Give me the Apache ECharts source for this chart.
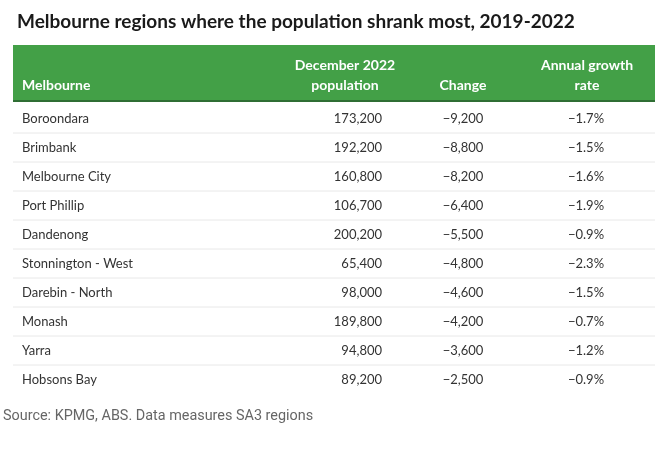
<!DOCTYPE html>
<html>
<head>
<meta charset="utf-8">
<script src="https://cdn.jsdelivr.net/npm/echarts@6/dist/echarts.min.js"></script>
<style>html,body{margin:0;padding:0;background:#fff;}#c{width:662px;height:450px;}</style>
</head>
<body>
<div id="c"></div>
<script>
var titleText = 'Melbourne regions where the population shrank most, 2019-2022';
var sourceText = 'Source: KPMG, ABS. Data measures SA3 regions';
var headers = ['Melbourne', 'December 2022\npopulation', 'Change', 'Annual growth\nrate'];
var regions = ['Boroondara', 'Brimbank', 'Melbourne City', 'Port Phillip', 'Dandenong', 'Stonnington - West', 'Darebin - North', 'Monash', 'Yarra', 'Hobsons Bay'];
var population = [173200, 192200, 160800, 106700, 200200, 65400, 98000, 189800, 94800, 89200];
var change = [-9200, -8800, -8200, -6400, -5500, -4800, -4600, -4200, -3600, -2500];
var growth = [-1.7, -1.5, -1.6, -1.9, -0.9, -2.3, -1.5, -0.7, -1.2, -0.9];

function fmtInt(v) {
  var s = Math.abs(v).toString().replace(/\B(?=(\d{3})+(?!\d))/g, ',');
  return (v < 0 ? '\u2212' : '') + s;
}
function fmtPct(v) {
  return (v < 0 ? '\u2212' : '') + Math.abs(v).toFixed(1) + '%';
}

var FONT = 'Lato, "Noto Sans", sans-serif';
var HFONT = 'bold 14px ' + FONT;
var chart = echarts.init(document.getElementById('c'), null, {renderer: 'canvas'});

var GL = 13, GR = 7, GT = 104, ROWH = 29;
var W = 662 - GL - GR;

var data = regions.map(function (r, i) { return [0, i]; });

chart.setOption({
  animation: false,
  title: {
    text: titleText, left: 12, top: 7,
    textStyle: {fontFamily: FONT, fontSize: 19, fontWeight: 'bold', color: '#1a1a1a'}
  },
  grid: {left: GL, right: GR, top: GT, height: ROWH * regions.length},
  xAxis: {type: 'value', min: 0, max: 1, show: false},
  yAxis: {type: 'category', data: regions, inverse: true, show: false},
  graphic: [
    {type: 'rect', shape: {x: GL, y: 45, width: W, height: 57}, style: {fill: '#43a047'}, z: 1},
    {type: 'rect', shape: {x: GL, y: 100, width: W, height: 2}, style: {fill: '#2f6e34'}, z: 2},
    {type: 'text', x: 22, y: 85, style: {text: headers[0], fill: '#fff', font: HFONT, align: 'left', verticalAlign: 'middle'}, z: 3},
    {type: 'text', x: 345, y: 75, style: {text: headers[1], fill: '#fff', font: HFONT, align: 'center', verticalAlign: 'middle', lineHeight: 20}, z: 3},
    {type: 'text', x: 463, y: 85, style: {text: headers[2], fill: '#fff', font: HFONT, align: 'center', verticalAlign: 'middle'}, z: 3},
    {type: 'text', x: 587, y: 75, style: {text: headers[3], fill: '#fff', font: HFONT, align: 'center', verticalAlign: 'middle', lineHeight: 20}, z: 3},
    {type: 'text', left: 3, top: 409, style: {text: sourceText, fill: '#666', font: '14.4px Roboto, sans-serif'}, z: 3}
  ],
  series: [{
    type: 'custom',
    coordinateSystem: 'cartesian2d',
    data: data,
    renderItem: function (params, api) {
      var i = api.value(1);
      var p = api.coord([0, i]);
      var cy = p[1];
      var x0 = params.coordSys.x, w = params.coordSys.width;
      var ts = {fill: '#333', font: '13px ' + FONT, verticalAlign: 'middle'};
      var children = [
        {type: 'text', style: Object.assign({}, ts, {text: regions[i], x: x0 + 9, y: cy, align: 'left'})},
        {type: 'text', style: Object.assign({}, ts, {text: fmtInt(population[i]), x: 382, y: cy, align: 'right'})},
        {type: 'text', style: Object.assign({}, ts, {text: fmtInt(change[i]), x: 463, y: cy, align: 'center'})},
        {type: 'text', style: Object.assign({}, ts, {text: fmtPct(growth[i]), x: 586, y: cy, align: 'center'})}
      ];
      if (i < regions.length - 1) {
        children.push({type: 'line', shape: {x1: x0, y1: cy + ROWH / 2, x2: x0 + w, y2: cy + ROWH / 2}, style: {stroke: '#e8e8e8', lineWidth: 1}});
      }
      return {type: 'group', children: children};
    }
  }]
});
</script>
</body>
</html>
